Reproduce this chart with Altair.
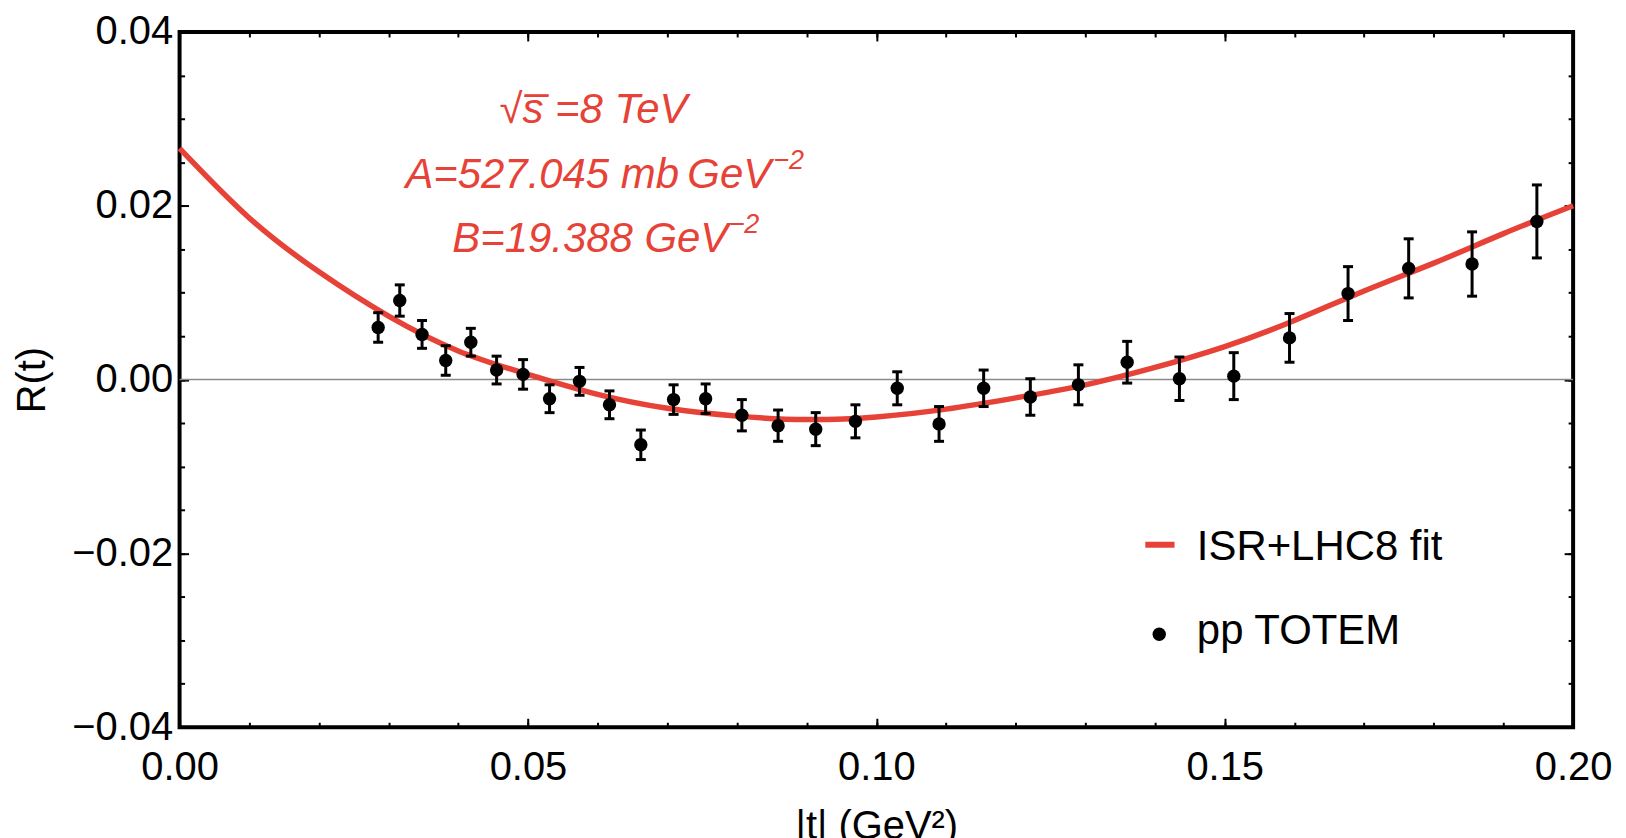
import altair as alt
import pandas as pd

# ---- data ----
t_data = [0.0285, 0.0316, 0.0348, 0.0382, 0.0418, 0.0455, 0.0493, 0.0531, 0.0574, 0.0617,
          0.0662, 0.0709, 0.0755, 0.0807, 0.0859, 0.0913, 0.0970, 0.1030, 0.1090, 0.1154,
          0.1221, 0.1290, 0.1360, 0.1435, 0.1513, 0.1593, 0.1677, 0.1764, 0.1855, 0.1948]
R_data = [0.0060, 0.0091, 0.0052, 0.0022, 0.0043, 0.0011, 0.0006, -0.0022, -0.0002, -0.0029,
          -0.0075, -0.0023, -0.0022, -0.0041, -0.0053, -0.0057, -0.0048, -0.0010, -0.0051, -0.0010,
          -0.0020, -0.0006, 0.0020, 0.0001, 0.0004, 0.0048, 0.0099, 0.0128, 0.0133, 0.0182]
err_data = [0.0017, 0.0018, 0.0016, 0.0017, 0.0016, 0.0016, 0.0017, 0.0016, 0.0016, 0.0016,
            0.0017, 0.0017, 0.0017, 0.0018, 0.0018, 0.0019, 0.0019, 0.0019, 0.0020, 0.0021,
            0.0021, 0.0023, 0.0024, 0.0025, 0.0027, 0.0028, 0.0031, 0.0034, 0.0037, 0.0042]

t_fit = [0.00, 0.01, 0.02, 0.03, 0.04, 0.05, 0.06, 0.07, 0.08, 0.09, 0.10,
         0.11, 0.12, 0.13, 0.14, 0.15, 0.16, 0.17, 0.18, 0.19, 0.20]
R_fit = [0.0266, 0.0186, 0.0124, 0.0073, 0.0033, 0.0006, -0.0017, -0.0033, -0.0042, -0.0046, -0.0043,
         -0.0034, -0.0021, -0.0006, 0.0014, 0.0038, 0.0068, 0.0102, 0.0134, 0.0168, 0.0200]

x_major = [0.0, 0.05, 0.10, 0.15, 0.20]
x_minor = [0.00, 0.01, 0.02, 0.03, 0.04, 0.05, 0.06, 0.07, 0.08, 0.09, 0.10,
           0.11, 0.12, 0.13, 0.14, 0.15, 0.16, 0.17, 0.18, 0.19, 0.20]
y_major = [-0.04, -0.02, 0.0, 0.02, 0.04]
y_minor = [-0.04, -0.035, -0.03, -0.025, -0.02, -0.015, -0.01, -0.005, 0.0,
           0.005, 0.01, 0.015, 0.02, 0.025, 0.03, 0.035, 0.04]

annot_top = "\u221as\u0305 =8 TeV"
annot_main = ["A=527.045 mb\u2009GeV", "B=19.388 GeV"]
annot_sup = ["\u22122", "\u22122"]
legend_labels = ["ISR+LHC8 fit", "pp TOTEM"]

# ---- styling ----
W, H = 1397, 697
RED = "#E64237"
FONT = "Liberation Sans"

pts = pd.DataFrame({
    "t": t_data,
    "R": R_data,
    "lo": [r - e for r, e in zip(R_data, err_data)],
    "hi": [r + e for r, e in zip(R_data, err_data)],
})
fit = pd.DataFrame({"t": t_fit, "R": R_fit})

xs = alt.Scale(domain=[0, 0.2], nice=False, zero=False)
ys = alt.Scale(domain=[-0.04, 0.04], nice=False, zero=False)


def tick_axis(orient, values, size):
    off = -H if orient in ("top", "bottom") else -W
    return alt.Axis(orient=orient, offset=off, values=values, tickSize=size, tickWidth=2,
                    tickColor="black", ticks=True, labels=False, domain=False, grid=False,
                    title=None)


x_lab = alt.Axis(orient="bottom", values=x_major, format=".2f", ticks=False, domain=False,
                 grid=False, labelFont=FONT, labelFontSize=40, labelColor="black",
                 labelPadding=20, labelFlush=False, labelOverlap=False,
                 title="|t| (GeV\u00b2)", titleFont=FONT, titleFontSize=40,
                 titleFontWeight="normal", titleColor="black", titleY=80, titleBaseline="top")
y_lab = alt.Axis(orient="left", values=y_major, format=".2f", ticks=False, domain=False,
                 grid=False, labelFont=FONT, labelFontSize=40, labelColor="black",
                 labelPadding=7, labelOverlap=False,
                 title="R(t)", titleFont=FONT, titleFontSize=40, titleFontWeight="normal",
                 titleColor="black", titleX=-135, titleY=H / 2, titleBaseline="alphabetic",
                 titleAlign="center")

zero = alt.Chart(pd.DataFrame({"R": [0.0]})).mark_rule(color="#8a8a8a", strokeWidth=1.5).encode(
    y=alt.Y("R:Q", scale=ys, axis=None))

curve = alt.Chart(fit).mark_line(color=RED, strokeWidth=5.5, interpolate="natural").encode(
    x=alt.X("t:Q", scale=xs, axis=x_lab),
    y=alt.Y("R:Q", scale=ys, axis=y_lab))

bars = alt.Chart(pts).mark_rule(color="black", strokeWidth=3, opacity=1).encode(
    x=alt.X("t:Q", scale=xs, axis=tick_axis("top", x_major, 9)),
    y=alt.Y("lo:Q", scale=ys, axis=tick_axis("right", y_major, 9)),
    y2="hi:Q")

caps_lo = alt.Chart(pts).mark_tick(color="black", thickness=3, size=10, orient="horizontal",
                                   opacity=1).encode(
    x=alt.X("t:Q", scale=xs, axis=tick_axis("top", x_minor, 5)),
    y=alt.Y("lo:Q", scale=ys, axis=tick_axis("right", y_minor, 5)))

caps_hi = alt.Chart(pts).mark_tick(color="black", thickness=3, size=10, orient="horizontal",
                                   opacity=1).encode(
    x=alt.X("t:Q", scale=xs, axis=tick_axis("bottom", x_major, 9)),
    y=alt.Y("hi:Q", scale=ys, axis=tick_axis("left", y_major, 9)))

points = alt.Chart(pts).mark_circle(color="black", size=180, opacity=1).encode(
    x=alt.X("t:Q", scale=xs, axis=tick_axis("bottom", x_minor, 5)),
    y=alt.Y("R:Q", scale=ys, axis=tick_axis("left", y_minor, 5)))

# annotation (red, italic)
top_df = pd.DataFrame({"t": [0.0594], "R": [0.02956], "label": [annot_top]})
annot1 = alt.Chart(top_df).mark_text(align="center", baseline="alphabetic", font=FONT,
                                     fontSize=42, fontStyle="italic", color=RED).encode(
    x=alt.X("t:Q", scale=xs, axis=None),
    y=alt.Y("R:Q", scale=ys, axis=None),
    text="label:N")

main_df = pd.DataFrame({"t": [0.0849, 0.07874], "R": [0.0221, 0.01463], "label": annot_main})
annot2 = alt.Chart(main_df).mark_text(align="right", baseline="alphabetic", font=FONT,
                                      fontSize=42, fontStyle="italic", color=RED).encode(
    x=alt.X("t:Q", scale=xs, axis=None),
    y=alt.Y("R:Q", scale=ys, axis=None),
    text="label:N")

sup_df = pd.DataFrame({"t": [0.0852, 0.0788], "R": [0.02428, 0.01682], "label": annot_sup})
annot3 = alt.Chart(sup_df).mark_text(align="left", baseline="alphabetic", font=FONT,
                                     fontSize=27, fontStyle="italic", color=RED).encode(
    x=alt.X("t:Q", scale=xs, axis=None),
    y=alt.Y("R:Q", scale=ys, axis=None),
    text="label:N")

# legend
leg_line = alt.Chart(pd.DataFrame({"t": [0.1386], "t2": [0.1428], "R": [-0.0190]})).mark_rule(
    color=RED, strokeWidth=6).encode(
    x=alt.X("t:Q", scale=xs, axis=None), x2="t2:Q",
    y=alt.Y("R:Q", scale=ys, axis=None))
leg_dot = alt.Chart(pd.DataFrame({"t": [0.1406], "R": [-0.0293]})).mark_circle(
    color="black", size=180, opacity=1).encode(
    x=alt.X("t:Q", scale=xs, axis=None),
    y=alt.Y("R:Q", scale=ys, axis=None))
leg_text = alt.Chart(pd.DataFrame({"t": [0.1460, 0.1460], "R": [-0.02072, -0.03047],
                                   "label": legend_labels})).mark_text(
    align="left", baseline="alphabetic", font=FONT, fontSize=42, color="black").encode(
    x=alt.X("t:Q", scale=xs, axis=None),
    y=alt.Y("R:Q", scale=ys, axis=None),
    text="label:N")

chart = alt.layer(zero, curve, bars, caps_lo, caps_hi, points, annot1, annot2, annot3,
                  leg_line, leg_dot, leg_text).resolve_axis(
    x="independent", y="independent"
).properties(
    width=W, height=H,
    autosize=alt.AutoSizeParams(type="none"),
    padding={"left": 172, "top": 23, "right": 45, "bottom": 110},
    background="white",
).configure(font=FONT).configure_view(stroke="black", strokeWidth=4)

chart.save("out.html", embed_options={"renderer": "svg", "actions": False})
